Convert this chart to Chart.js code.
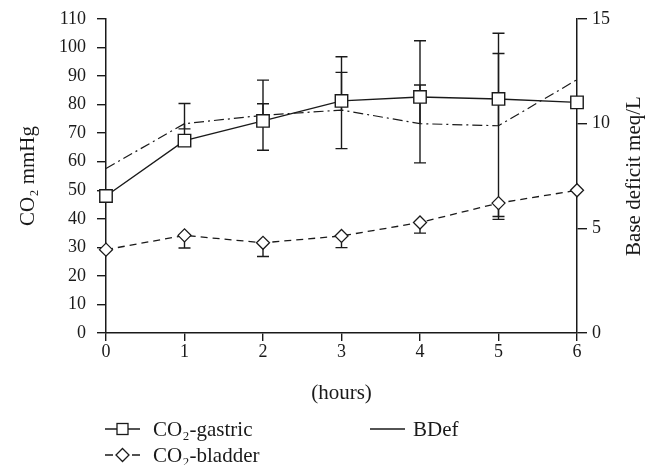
<!DOCTYPE html>
<html>
<head>
<meta charset="utf-8">
<script src="https://cdn.jsdelivr.net/npm/chart.js@4.4.0/dist/chart.umd.min.js"></script>
<style>
  html, body { margin: 0; padding: 0; background: #fff; }
  #wrap { width: 651px; height: 465px; }
</style>
</head>
<body>
<div id="wrap"><canvas id="co2-chart"></canvas></div>
<script>
// hours after start
var hours = [0, 1, 2, 3, 4, 5, 6];

// CO2 in mmHg (left axis)
var gastric = [48, 67.4, 74.3, 81.3, 82.7, 82, 80.8];
var gastricHi = [null, 80.4, 88.6, 96.8, 102.4, 105, null];
var gastricLo = [null, null, 64, 64.6, 59.6, 39.8, null];

var bladder = [29.2, 34.2, 31.6, 34, 38.7, 45.5, 50];
var bladderHi = [null, null, null, null, null, null, null];
var bladderLo = [null, 29.8, 26.8, 29.9, 35, 40.8, null];

// base deficit meq/L (right axis)
var bdef = [7.86, 10.0, 10.4, 10.65, 10.0, 9.9, 12.1];
var bdefHi = [null, null, 10.95, 12.45, 11.85, 13.35, null];
var bdefLo = [null, 9.75, null, null, null, null, null];

var leftTicks = { min: 0, max: 110, step: 10 };
var rightTicks = { min: 0, max: 15, step: 5 };

var serif = 'Liberation Serif';
var ink = '#1a1a1a';

function pts(ys) {
    var out = [];
    for (var i = 0; i < hours.length; i++) out.push({ x: hours[i], y: ys[i] });
    return out;
}

var errorBars = {
    id: 'errorBars',
    beforeDatasetsDraw: function(chart) {
        var ctx = chart.ctx;
        var xs = chart.scales.x;
        ctx.save();
        ctx.strokeStyle = ink;
        ctx.lineWidth = 1.4;
        ctx.setLineDash([]);
        chart.data.datasets.forEach(function(ds) {
            var ys = chart.scales[ds.yAxisID];
            for (var i = 0; i < hours.length; i++) {
                var px = xs.getPixelForValue(hours[i]);
                var p0 = ys.getPixelForValue(ds.data[i].y);
                [ds.errHi[i], ds.errLo[i]].forEach(function(v) {
                    if (v === null) return;
                    var p1 = ys.getPixelForValue(v);
                    ctx.beginPath();
                    ctx.moveTo(px, p0);
                    ctx.lineTo(px, p1);
                    ctx.moveTo(px - 6, p1);
                    ctx.lineTo(px + 6, p1);
                    ctx.stroke();
                });
            }
        });
        ctx.restore();
    }
};

var extras = {
    id: 'extras',
    afterDraw: function(chart) {
        var ctx = chart.ctx;
        var area = chart.chartArea;
        ctx.save();
        ctx.fillStyle = ink;
        ctx.font = '21px "' + serif + '"';

        // right axis title, reading bottom to top
        ctx.save();
        ctx.translate(634, (area.top + area.bottom) / 2);
        ctx.rotate(-Math.PI / 2);
        ctx.textAlign = 'center';
        ctx.textBaseline = 'middle';
        ctx.fillText('Base deficit meq/L', 0, 0);
        ctx.restore();

        // legend
        ctx.strokeStyle = ink;
        ctx.lineWidth = 1.3;
        ctx.textBaseline = 'alphabetic';
        ctx.textAlign = 'left';

        var y = 429;
        ctx.beginPath(); ctx.moveTo(105, y); ctx.lineTo(140, y); ctx.stroke();
        ctx.fillStyle = '#fff';
        ctx.fillRect(117, y - 5.5, 11, 11);
        ctx.strokeRect(117, y - 5.5, 11, 11);
        ctx.fillStyle = ink;
        ctx.fillText('CO\u2082-gastric', 153, y + 7);

        ctx.beginPath(); ctx.moveTo(370, y); ctx.lineTo(405, y); ctx.stroke();
        ctx.fillText('BDef', 413, y + 7);

        y = 455;
        ctx.beginPath();
        ctx.moveTo(105, y); ctx.lineTo(113, y);
        ctx.moveTo(132, y); ctx.lineTo(140, y);
        ctx.stroke();
        ctx.fillStyle = '#fff';
        ctx.beginPath();
        ctx.moveTo(122.5, y - 6.5); ctx.lineTo(129, y); ctx.lineTo(122.5, y + 6.5); ctx.lineTo(116, y);
        ctx.closePath(); ctx.fill(); ctx.stroke();
        ctx.fillStyle = ink;
        ctx.fillText('CO\u2082-bladder', 153, y + 7);
        ctx.restore();
    }
};

var tickFont = { family: serif, size: 18 };
var titleFont = { family: serif, size: 21 };

// keep the plot box where the figure has it
function fixWidth(w) {
    return function(s) { s.width = w; s.paddingTop = 0; s.paddingBottom = 0; };
}

var ctx = document.getElementById('co2-chart').getContext('2d');
var chart = new Chart(ctx, {
    type: 'line',
    data: {
        datasets: [{
            label: 'CO\u2082-gastric',
            data: pts(gastric),
            errHi: gastricHi,
            errLo: gastricLo,
            yAxisID: 'y',
            clip: false,
            borderColor: ink,
            borderWidth: 1.4,
            pointStyle: 'rect',
            pointRadius: 8.8,
            pointBorderWidth: 1.4,
            pointBackgroundColor: '#fff',
            pointBorderColor: ink,
            order: 1
        }, {
            label: 'CO\u2082-bladder',
            data: pts(bladder),
            errHi: bladderHi,
            errLo: bladderLo,
            yAxisID: 'y',
            clip: false,
            borderColor: ink,
            borderWidth: 1.3,
            borderDash: [7, 5],
            pointStyle: 'rectRot',
            pointRadius: 6.5,
            pointBorderWidth: 1.3,
            pointBackgroundColor: '#fff',
            pointBorderColor: ink,
            order: 2
        }, {
            label: 'BDef',
            data: pts(bdef),
            errHi: bdefHi,
            errLo: bdefLo,
            yAxisID: 'y1',
            clip: false,
            borderColor: ink,
            borderWidth: 1.2,
            borderDash: [10, 4, 2, 4],
            pointRadius: 0,
            order: 3
        }]
    },
    options: {
        responsive: true,
        maintainAspectRatio: false,
        animation: false,
        layout: { padding: { top: 19, left: 0, right: 0, bottom: 0 } },
        plugins: {
            legend: { display: false },
            tooltip: { enabled: false }
        },
        scales: {
            x: {
                type: 'linear',
                min: 0,
                max: 6,
                afterFit: function(s) { s.height = 132; },
                ticks: { stepSize: 1, color: ink, padding: 0, font: tickFont },
                grid: { drawOnChartArea: false, tickLength: 8, color: ink, lineWidth: 1.4 },
                border: { color: ink, width: 1.5 },
                title: { display: true, text: '(hours)', color: ink, padding: { top: 0, bottom: 59 },
                         font: titleFont }
            },
            y: {
                position: 'left',
                min: leftTicks.min,
                max: leftTicks.max,
                afterFit: fixWidth(106),
                ticks: { stepSize: leftTicks.step, color: ink, padding: 11, font: tickFont },
                grid: { drawOnChartArea: false, tickLength: 9, color: ink, lineWidth: 1.4 },
                border: { color: ink, width: 1.5 },
                title: { display: true, text: 'CO\u2082 mmHg', color: ink, padding: { top: 16, bottom: 0 },
                         font: titleFont }
            },
            y1: {
                position: 'right',
                min: rightTicks.min,
                max: rightTicks.max,
                afterFit: fixWidth(74),
                ticks: { stepSize: rightTicks.step, color: ink, padding: 5, font: tickFont },
                grid: { drawOnChartArea: false, tickLength: 10, color: ink, lineWidth: 1.4 },
                border: { color: ink, width: 1.5 }
            }
        }
    },
    plugins: [errorBars, extras]
});
</script>
</body>
</html>
